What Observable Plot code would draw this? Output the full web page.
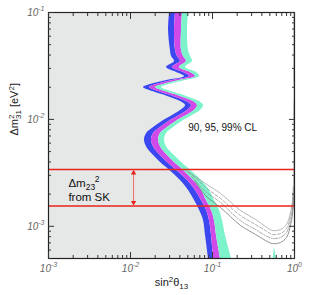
<!DOCTYPE html>
<html><head><meta charset="utf-8">
<script src="https://cdn.jsdelivr.net/npm/d3@7"></script>
<script src="https://cdn.jsdelivr.net/npm/@observablehq/plot@0.6"></script>
<style>body{margin:0;background:#fff;font-family:"Liberation Sans",Arial,sans-serif}</style>
</head><body><div id="chart"></div>
<script>
// Δm²31 grid (eV²) and sin²θ13 contour edges at each grid value
const dm2 = [0.1, 0.0679, 0.0441, 0.0388, 0.0348, 0.0306, 0.0275, 0.0252, 0.0231, 0.0212, 0.0199, 0.0182, 0.0164, 0.0147, 0.0135, 0.0121, 0.0109, 0.00977, 0.0084, 0.00738, 0.00635, 0.00534, 0.0046, 0.00395, 0.00347, 0.00268, 0.00216, 0.00174, 0.00141, 0.00113, 0.00082, 0.0005];
const edge90 = [0.0299, 0.0291, 0.0307, 0.0316, 0.0344, 0.0275, 0.0364, 0.0456, 0.0275, 0.0175, 0.0144, 0.0186, 0.0283, 0.0407, 0.0469, 0.0407, 0.0325, 0.0253, 0.0191, 0.0157, 0.0148, 0.0161, 0.0191, 0.0232, 0.0283, 0.0407, 0.0510, 0.0603, 0.0694, 0.0777, 0.0822, 0.0894];
const edge95 = [0.0354, 0.0344, 0.0354, 0.0374, 0.0407, 0.0325, 0.0443, 0.0524, 0.0325, 0.0208, 0.0171, 0.0220, 0.0334, 0.0482, 0.0555, 0.0496, 0.0396, 0.0307, 0.0232, 0.0191, 0.0180, 0.0196, 0.0232, 0.0283, 0.0344, 0.0496, 0.0621, 0.0734, 0.0845, 0.0919, 0.0972, 0.1028];
const edge99 = [0.0431, 0.0419, 0.0419, 0.0443, 0.0482, 0.0396, 0.0539, 0.0621, 0.0396, 0.0253, 0.0202, 0.0267, 0.0407, 0.0587, 0.0656, 0.0603, 0.0482, 0.0374, 0.0283, 0.0232, 0.0220, 0.0239, 0.0283, 0.0344, 0.0419, 0.0587, 0.0734, 0.0845, 0.0972, 0.1058, 0.1119, 0.1252];
const edgeOuter = [0.0510, 0.0496, 0.0510, 0.0539, 0.0570, 0.0469, 0.0638, 0.0694, 0.0469, 0.0299, 0.0239, 0.0316, 0.0482, 0.0694, 0.0777, 0.0714, 0.0570, 0.0443, 0.0334, 0.0275, 0.0260, 0.0283, 0.0344, 0.0419, 0.0510, 0.0734, 0.0919, 0.1058, 0.1217, 0.1324, 0.1440, 0.1705];

// other-experiment limit curves (gray)
const limAx = [0.0469, 0.0621, 0.0822, 0.1252, 0.2196, 0.3344, 0.4428, 0.5391, 0.6749, 0.7989, 0.8939, 0.9453, 0.9723, 0.986, 0.975, 0.99, 0.975, 0.985, 0.98];
const limAy = [0.00333, 0.00292, 0.00251, 0.00203, 0.00141, 0.00116, 0.000996, 0.000914, 0.000933, 0.00104, 0.00135, 0.00174, 0.00268, 0.00512, 0.0121, 0.018, 0.0258, 0.0547, 0.1];
const limBx = [0.0510, 0.0675, 0.0822, 0.1252, 0.2196, 0.3344, 0.4428, 0.5391, 0.6749, 0.7989, 0.8939, 0.9453, 0.9723];
const limBy = [0.00319, 0.00268, 0.00231, 0.00182, 0.00126, 0.00104, 0.000914, 0.000839, 0.000857, 0.000954, 0.00124, 0.00157, 0.00241];
const limCx = [0.0555, 0.0822, 0.1252, 0.2196, 0.3344, 0.4428, 0.5391, 0.6749, 0.7989, 0.8939, 0.9453, 0.9723];
const limCy = [0.00292, 0.00212, 0.00167, 0.00113, 0.000933, 0.00082, 0.000769, 0.000786, 0.000875, 0.00113, 0.00141, 0.00216];
const limDx = [0.0603, 0.0822, 0.1252, 0.2196, 0.3344, 0.4428, 0.5391, 0.6749, 0.7989, 0.8939, 0.9453, 0.986];
const limDy = [0.00268, 0.00194, 0.0015, 0.00102, 0.000839, 0.000737, 0.00069, 0.000706, 0.000786, 0.00102, 0.00129, 0.00194];

// small 99% island near the bottom
const islandX = [0.55, 0.57, 0.6];
const islandY = [0.0005, 0.00064, 0.0005];

// SK Δm²23 band
const skBand = [0.00155, 0.0034];
const arrowX = 0.0109;

const xDecades = [1e-3, 1e-2, 1e-1, 1];
const yDecades = [1e-3, 1e-2, 1e-1];
const xTickExp = ["-3", "-2", "-1", "0"];
const yTickExp = ["-3", "-2", "-1"];

const xMinor = [], yMinor = [];
for (const d of [1e-3, 1e-2, 1e-1]) for (let k = 2; k <= 9; k++) xMinor.push(k * d);
for (const d of [1e-4, 1e-3, 1e-2]) for (let k = 2; k <= 9; k++) { const v = k * d; if (v >= 5e-4 && v < 0.1) yMinor.push(v); }

const rows = dm2.map((y, i) => ({y, e0: edge90[i], e1: edge95[i], e2: edge99[i], e3: edgeOuter[i]}));
const pts = (xs, ys) => xs.map((x, i) => ({x, y: ys[i]}));
const curve = "catmull-rom";
const red = "#e8251c";
const tickFont = {fontStyle: "italic", fill: "#666", fontSize: 10};

const chart = Plot.plot({
  width: 310, height: 295,
  marginLeft: 48, marginRight: 16, marginTop: 12, marginBottom: 37,
  style: {fontFamily: "Liberation Sans, Arial, sans-serif", background: "#fff"},
  x: {type: "log", domain: [1e-3, 1], axis: null},
  y: {type: "log", domain: [5e-4, 0.1], axis: null},
  marks: [
    Plot.areaX(rows, {y: "y", x1: () => 1e-3, x2: "e0", fill: "#e6e8e8", curve}),
    Plot.areaX(rows, {y: "y", x1: "e0", x2: "e1", fill: "#3c48ef", curve}),
    Plot.areaX(rows, {y: "y", x1: "e1", x2: "e2", fill: "#d04ae8", curve}),
    Plot.areaX(rows, {y: "y", x1: "e2", x2: "e3", fill: "#7df3cc", curve}),
    Plot.areaY(pts(islandX, islandY), {x: "x", y1: () => 5e-4, y2: "y", fill: "#7df3cc"}),
    Plot.line(pts(limAx, limAy), {x: "x", y: "y", stroke: "#999", strokeWidth: 0.7, curve, clip: true}),
    Plot.line(pts(limBx, limBy), {x: "x", y: "y", stroke: "#888", strokeWidth: 0.7, strokeDasharray: "3,2", curve, clip: true}),
    Plot.line(pts(limCx, limCy), {x: "x", y: "y", stroke: "#888", strokeWidth: 0.7, strokeDasharray: "4,1.5,1,1.5", curve, clip: true}),
    Plot.line(pts(limDx, limDy), {x: "x", y: "y", stroke: "#777", strokeWidth: 0.8, curve, clip: true}),
    Plot.ruleY(skBand, {stroke: red, strokeWidth: 1.6}),
    Plot.link([skBand], {x1: () => arrowX, x2: () => arrowX, y1: d => d[1], y2: d => d[0], stroke: "#f06a60", strokeWidth: 1}),
    Plot.dot([skBand[1]], {x: () => arrowX, y: d => d, dy: 3.5, symbol: "triangle2", r: 2.6, fill: red, stroke: "none"}),
    Plot.dot([skBand[0]], {x: () => arrowX, y: d => d, dy: -3.5, rotate: 180, symbol: "triangle2", r: 2.6, fill: red, stroke: "none"}),
    Plot.text(["Δm23 2"], {x: () => 0.00175, y: () => 0.00251, text: d => d, textAnchor: "start", fontSize: 11.5, fill: "#111", className: "rich-dm23"}),
    Plot.text(["from SK"], {x: () => 0.00175, y: () => 0.00186, text: d => d, textAnchor: "start", fontSize: 11.5, fill: "#111"}),
    Plot.text(["90, 95, 99% CL"], {x: () => 0.0505, y: () => 0.0084, text: d => d, textAnchor: "start", fontSize: 10, fill: "#111"}),
    Plot.frame({stroke: "#222", strokeWidth: 1.2}),
    Plot.axisX(xDecades, {anchor: "bottom", tickSize: -6, fill: "none", label: null, stroke: "#333"}),
    Plot.axisX(xMinor, {anchor: "bottom", tickSize: -3, fill: "none", label: null, stroke: "#333"}),
    Plot.axisX(xDecades, {anchor: "top", tickSize: -6, fill: "none", label: null, stroke: "#333"}),
    Plot.axisX(xMinor, {anchor: "top", tickSize: -3, fill: "none", label: null, stroke: "#333"}),
    Plot.axisY(yDecades, {anchor: "left", tickSize: -6, fill: "none", label: null, stroke: "#333"}),
    Plot.axisY(yMinor, {anchor: "left", tickSize: -3, fill: "none", label: null, stroke: "#333"}),
    Plot.axisY(yDecades, {anchor: "right", tickSize: -6, fill: "none", label: null, stroke: "#333"}),
    Plot.axisY(yMinor, {anchor: "right", tickSize: -3, fill: "none", label: null, stroke: "#333"}),
    Plot.text(xDecades, {x: d => d, frameAnchor: "bottom", dy: 13, text: (d, i) => "10^" + xTickExp[i], className: "rich-tick", ...tickFont}),
    Plot.text(yDecades, {y: d => d, frameAnchor: "left", dx: -4, textAnchor: "end", text: (d, i) => "10^" + yTickExp[i], className: "rich-tick", ...tickFont}),
    Plot.text(["sin2θ13"], {frameAnchor: "bottom", dy: 27, text: d => d, fontSize: 11, fill: "#222", className: "rich-xlabel"}),
    Plot.text(["Δm31 [eV2]"], {frameAnchor: "left", dx: -34, rotate: -90, text: d => d, fontSize: 11, fill: "#222", className: "rich-ylabel"})
  ]
});

// rich text: superscripts / subscripts as tspans
function rich(el, parts) {
  const t = d3.select(el);
  t.text("");
  let cur = 0;
  for (const p of parts) {
    const s = t.append("tspan").text(p.t);
    const target = p.dy || 0;
    if (target !== cur) { s.attr("dy", target - cur); cur = target; }
    if (p.size) s.attr("font-size", p.size);
    if (p.dx) s.attr("dx", p.dx);
  }
}
d3.select(chart).selectAll("g.rich-tick text").each(function() {
  const [base, exp] = this.textContent.split("^");
  rich(this, [{t: base}, {t: exp, dy: -4.5, size: 7}]);
});
d3.select(chart).selectAll("g.rich-xlabel text").each(function() {
  rich(this, [{t: "sin"}, {t: "2", dy: -4, size: 8}, {t: "θ"}, {t: "13", dy: 3, size: 8}]);
});
d3.select(chart).selectAll("g.rich-ylabel text").each(function() {
  rich(this, [{t: "Δm"}, {t: "2", dy: -4, size: 8}, {t: "31", dy: 3, size: 8, dx: -4.5}, {t: " [eV"}, {t: "2", dy: -4, size: 8}, {t: "]"}]);
});
d3.select(chart).selectAll("g.rich-dm23 text").each(function() {
  rich(this, [{t: "Δm"}, {t: "23", dy: 3, size: 8.5}, {t: "2", dy: -5, size: 8.5, dx: -0.5}]);
});
document.getElementById("chart").appendChild(chart);
</script>
</body></html>
